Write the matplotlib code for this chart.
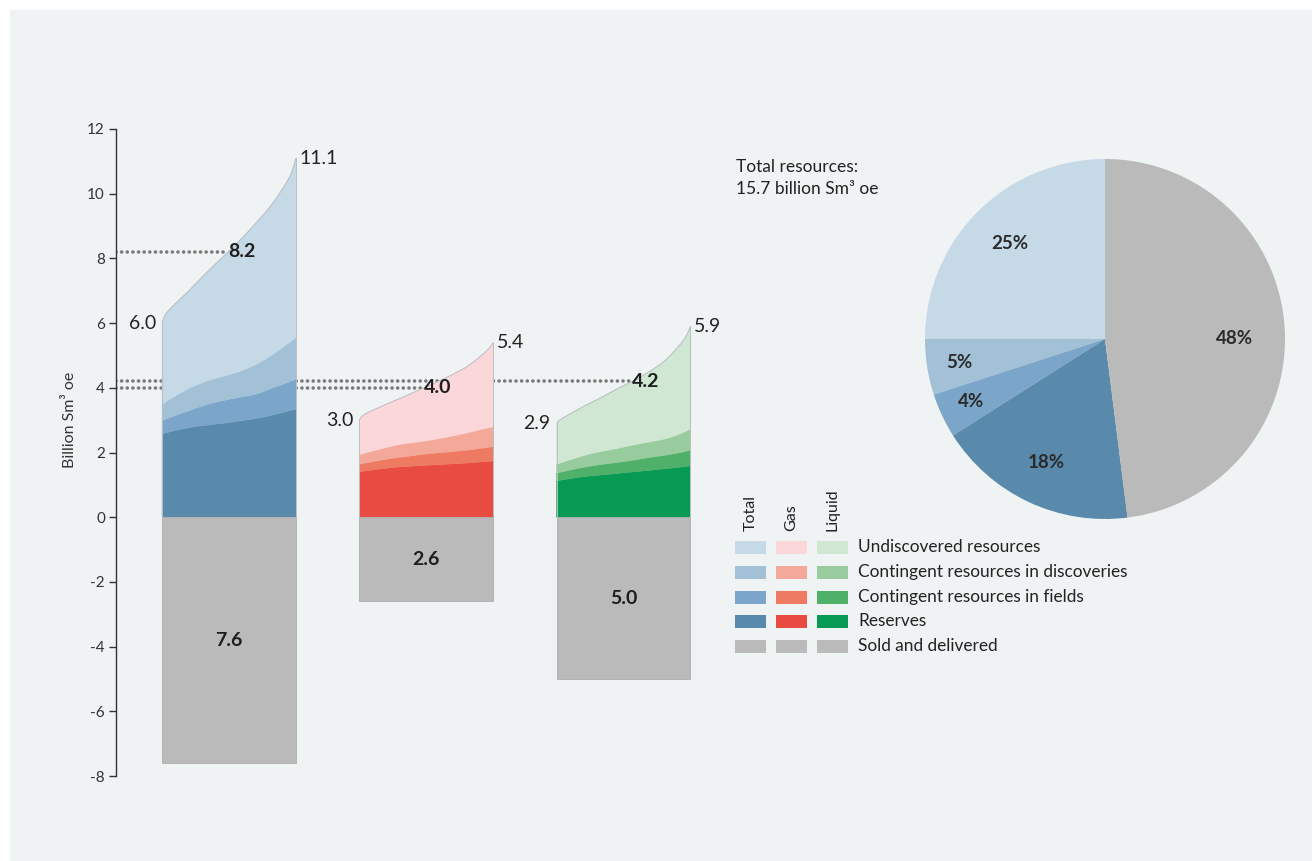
import matplotlib.pyplot as plt
import numpy as np
from matplotlib.patches import Rectangle, PathPatch
from matplotlib.path import Path

plt.rcParams['font.family'] = ['Lato', 'DejaVu Sans']
plt.rcParams['axes.unicode_minus'] = False

# share of the column width where the layer boundaries were read
spread = [0, 0.04, 0.2, 0.32, 0.45, 0.57, 0.7, 0.82, 0.95, 1.0]

# cumulative layer tops, billion Sm3 oe
total_reserves = [2.57, 2.62, 2.77, 2.84, 2.90, 2.97, 3.05, 3.15, 3.29, 3.34]
total_fields = [2.98, 3.05, 3.29, 3.46, 3.60, 3.70, 3.80, 3.98, 4.18, 4.27]
total_discoveries = [3.49, 3.60, 3.98, 4.18, 4.35, 4.49, 4.72, 5.01, 5.40, 5.55]
total_top = [6.0, 6.35, 7.0, 7.51, 8.03, 8.51, 9.09, 9.67, 10.5, 11.1]

gas_reserves = [1.40, 1.43, 1.51, 1.56, 1.59, 1.62, 1.65, 1.68, 1.72, 1.74]
gas_fields = [1.64, 1.67, 1.79, 1.86, 1.93, 1.98, 2.03, 2.08, 2.15, 2.18]
gas_discoveries = [1.92, 1.98, 2.15, 2.26, 2.33, 2.41, 2.51, 2.62, 2.75, 2.79]
gas_top = [3.0, 3.18, 3.49, 3.70, 3.94, 4.16, 4.42, 4.70, 5.14, 5.4]

liquid_reserves = [1.12, 1.15, 1.25, 1.30, 1.35, 1.40, 1.45, 1.50, 1.56, 1.59]
liquid_fields = [1.36, 1.40, 1.54, 1.62, 1.69, 1.76, 1.85, 1.92, 2.02, 2.08]
liquid_discoveries = [1.64, 1.69, 1.90, 2.02, 2.12, 2.23, 2.33, 2.43, 2.62, 2.74]
liquid_top = [2.9, 3.05, 3.42, 3.67, 3.96, 4.21, 4.52, 4.88, 5.48, 5.9]

sold = [7.6, 2.6, 5.0]
low = [6.0, 3.0, 2.9]
expected = [8.2, 4.0, 4.2]
high = [11.1, 5.4, 5.9]

pie_shares = [25, 5, 4, 18, 48]  # undiscovered, discoveries, fields, reserves, sold

legend_labels = ['Undiscovered resources', 'Contingent resources in discoveries',
                 'Contingent resources in fields', 'Reserves', 'Sold and delivered']
legend_heads = ['Total', 'Gas', 'Liquid']

blues = ['#c6d9e7', '#a2c0d6', '#7ba6c9', '#5a8aab']
reds = ['#fbd7da', '#f4a899', '#ef7a62', '#e84c40']
greens = ['#d0e7d4', '#98cc9e', '#4fb06a', '#079a55']
grey = '#bababa'

columns = [
    (total_reserves, total_fields, total_discoveries, total_top, blues),
    (gas_reserves, gas_fields, gas_discoveries, gas_top, reds),
    (liquid_reserves, liquid_fields, liquid_discoveries, liquid_top, greens),
]


def bezier_segments(xs, ys):
    # smooth curve through the read points (Catmull-Rom as cubic bezier)
    p = np.column_stack([xs, ys])
    verts = []
    for i in range(len(p) - 1):
        p0 = p[i - 1] if i > 0 else p[i]
        p1, p2 = p[i], p[i + 1]
        p3 = p[i + 2] if i + 2 < len(p) else p[i + 1]
        verts += [p1 + (p2 - p0) / 6, p2 - (p3 - p1) / 6, p2]
    return verts


def band(xs, lower, upper):
    verts = [(xs[0], lower[0])] + bezier_segments(xs, lower)
    codes = [Path.MOVETO] + [Path.CURVE4] * (len(verts) - 1)
    verts.append((xs[-1], upper[-1]))
    codes.append(Path.LINETO)
    up = bezier_segments(xs[::-1], upper[::-1])
    verts += up
    codes += [Path.CURVE4] * len(up)
    verts.append((xs[0], lower[0]))
    codes.append(Path.CLOSEPOLY)
    return Path(verts, codes)


def outline(xs, ys):
    verts = [(xs[0], ys[0])] + bezier_segments(xs, ys)
    return Path(verts, [Path.MOVETO] + [Path.CURVE4] * (len(verts) - 1))


W, H = 1312, 861
fig = plt.figure(figsize=(W / 100, H / 100), dpi=100)
fig.patch.set_facecolor('white')

# pixel overlay for background panel and legend
bg = fig.add_axes([0, 0, 1, 1])
bg.set_xlim(0, W)
bg.set_ylim(H, 0)
bg.axis('off')
bg.add_patch(Rectangle((10, 10), W, H, color='#eff3f4', zorder=0))

# main column chart
ax_left, ax_right = 116, 742
ax = fig.add_axes([ax_left / W, (H - 776) / H, (ax_right - ax_left) / W, 647 / H])
ax.patch.set_alpha(0)
centers = np.array([0.0, 1.0, 2.0])
width = 0.679
x0 = -0.573
ax.set_xlim(x0, (ax_right - 229) / 197.25)
ax.set_ylim(-8, 12)
ax.set_yticks(range(-8, 13, 2))
ax.set_xticks([])
for s in ['top', 'right', 'bottom']:
    ax.spines[s].set_visible(False)
ax.spines['left'].set_color('#333333')
ax.spines['left'].set_linewidth(1.0)
ax.tick_params(axis='y', direction='out', length=5, width=1, color='#333333',
               labelsize=11, labelcolor='#333333', pad=3)
ax.set_ylabel('Billion Sm³ oe', fontsize=11.5, color='#333333')
ax.yaxis.set_label_coords(-0.062, 0.55)

dot_style = dict(color='#7a7a7a', lw=2.6, linestyle=(0, (0.01, 1.55)),
                 dash_capstyle='round', zorder=1)

for i, (res, fld, disc, top, cols) in enumerate(columns):
    left = centers[i] - width / 2
    x = left + np.array(spread) * width
    zero = [0.0] * len(x)
    for lo, hi, c in [(zero, res, cols[3]), (res, fld, cols[2]),
                      (fld, disc, cols[1]), (disc, top, cols[0])]:
        ax.add_patch(PathPatch(band(x, np.array(lo), np.array(hi)),
                               facecolor=c, edgecolor=c, lw=0.3, zorder=3))
    ax.add_patch(PathPatch(outline(x, np.array(top)), fill=False,
                           edgecolor='#b9bec2', lw=0.7, zorder=4))
    ax.plot([x[0], x[0]], [0, top[0]], color='#b9bec2', lw=0.7, zorder=4)
    ax.plot([x[-1], x[-1]], [0, top[-1]], color='#b9bec2', lw=0.7, zorder=4)

    ax.bar(centers[i], -sold[i], width=width, color=grey, edgecolor='#adadad',
           lw=0.6, zorder=3)
    ax.text(centers[i], -sold[i] / 2, f'{sold[i]:.1f}', ha='center', va='center',
            fontsize=14, fontweight='bold', color='#1e1e1e', zorder=5)

    ax.text(x[0] - 0.03, low[i], f'{low[i]:.1f}', ha='right', va='center',
            fontsize=14, color='#222222', zorder=5)
    ax.text(x[-1] + 0.02, high[i], f'{high[i]:.1f}', ha='left', va='center',
            fontsize=14, color='#222222', zorder=5)

    # expected value: dotted line from the axis to where the top curve reaches it
    fx = left + np.interp(expected[i], top, spread) * width
    ax.plot([x0, fx], [expected[i], expected[i]], **dot_style)
    ax.text(fx, expected[i], f'{expected[i]:.1f}', ha='left', va='center',
            fontsize=14, fontweight='bold', color='#1e1e1e', zorder=5)

# pie
pax = fig.add_axes([925 / W, (H - 519) / H, 360 / W, 360 / H])
pie_colors = blues + [grey]
wedges, _, autotexts = pax.pie(pie_shares, colors=pie_colors, startangle=90,
                               counterclock=True, radius=1,
                               autopct=lambda p: f'{p:.0f}%', pctdistance=0.75,
                               wedgeprops=dict(lw=0))
label_r = [0.75, 0.82, 0.82, 0.76, 0.72]
label_shift = [0, 0, 0, 0, -3.6]  # degrees
cum = np.cumsum([0] + pie_shares)
for t, r, d, a0, a1 in zip(autotexts, label_r, label_shift, cum[:-1], cum[1:]):
    ang = np.deg2rad(90 + (a0 + a1) / 2 * 3.6 + d)
    t.set_position((r * np.cos(ang), r * np.sin(ang)))
    t.set_fontsize(13.5)
    t.set_fontweight('bold')
    t.set_color('#2a2a2a')
pax.set_xlim(-1, 1)
pax.set_ylim(-1, 1)
pax.set_aspect('equal')

bg.text(736, 167, 'Total resources:', fontsize=12.5, color='#222222', va='center')
bg.text(736, 189, '15.7 billion Sm³ oe', fontsize=12.5, color='#222222', va='center')

# legend
sw_x = [735, 776, 817]
row_y = [547, 572, 597, 621, 646]
palettes = [blues + [grey], reds + [grey], greens + [grey]]
for j, head in enumerate(legend_heads):
    bg.text(sw_x[j] + 15.5, 531, head, rotation=90, ha='center', va='bottom',
            fontsize=11.5, color='#222222')
    for k in range(5):
        bg.add_patch(Rectangle((sw_x[j], row_y[k] - 6.5), 31, 13.3,
                               color=palettes[j][k], lw=0))
for k, lab in enumerate(legend_labels):
    bg.text(858, row_y[k], lab, fontsize=12.4, color='#222222', va='center')

fig.savefig('out.png', dpi=100)
